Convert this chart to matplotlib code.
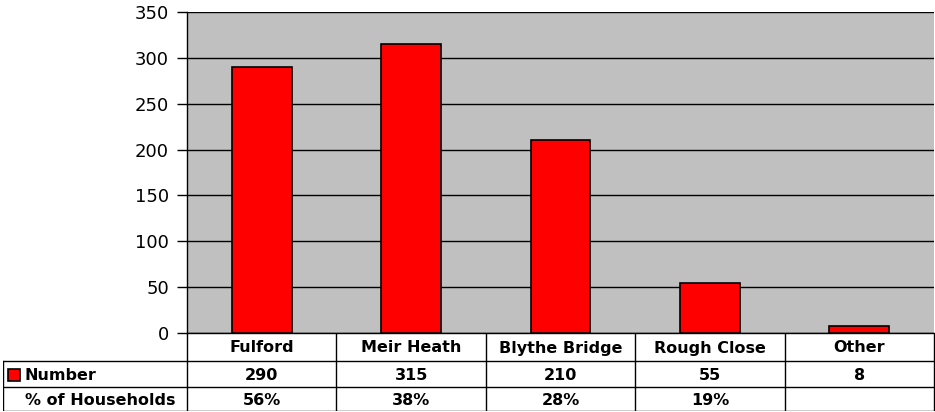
import matplotlib
matplotlib.use("Agg")
import matplotlib.pyplot as plt
from matplotlib.patches import Rectangle

plt.rcParams['font.family'] = ['DejaVu Sans']

categories = ["Fulford", "Meir Heath", "Blythe Bridge", "Rough Close", "Other"]
numbers = [290, 315, 210, 55, 8]
pct_households = ["56%", "38%", "28%", "19%", ""]
row_labels = ["Number", "% of Households"]
yticks = [0, 50, 100, 150, 200, 250, 300, 350]

W, H = 935, 412
fig = plt.figure(figsize=(W / 100, H / 100), dpi=100)

def fx(px):
    return px / W

def fy(py):
    return 1 - py / H

left_px, right_px, top_px, bot_px = 187, 934, 12, 333
ax = fig.add_axes([fx(left_px), fy(bot_px), fx(right_px) - fx(left_px), fy(top_px) - fy(bot_px)])
ax.set_facecolor("#c0c0c0")
x = list(range(len(categories)))
ax.bar(x, numbers, width=0.4, color="#ff0000", edgecolor="black", linewidth=1.2, zorder=3)
ax.set_xlim(-0.5, len(categories) - 0.5)
ax.set_ylim(0, 350)
ax.set_yticks(yticks)
ax.set_yticklabels([str(v) for v in yticks], fontsize=13)
ax.yaxis.grid(True, color="black", linewidth=1, zorder=1)
ax.set_xticks([])
ax.tick_params(axis='y', length=7, width=1, pad=6)
for s in ["top", "right"]:
    ax.spines[s].set_visible(False)
ax.spines["left"].set_linewidth(1)
ax.spines["bottom"].set_linewidth(1)

# Table drawn in a separate axes spanning from label column to right edge
tleft_px, ttop_px, tbot_px = 3, 333, 411
tax = fig.add_axes([fx(tleft_px), fy(tbot_px), fx(right_px + 1) - fx(tleft_px), fy(ttop_px) - fy(tbot_px)])
tax.set_xlim(tleft_px, right_px + 1)
tax.set_ylim(tbot_px, ttop_px)
tax.axis("off")

col_w = (right_px - left_px) / len(categories)
row_edges = [333, 361, 387, 411]
lw = 1.0
for ry in row_edges[1:]:
    tax.plot([tleft_px, right_px], [ry, ry], color="black", lw=lw, solid_capstyle="butt")
tax.plot([tleft_px, tleft_px], [row_edges[1], row_edges[3]], color="black", lw=lw)
for i in range(len(categories) + 1):
    xx = left_px + i * col_w
    tax.plot([xx, xx], [row_edges[0], row_edges[3]], color="black", lw=lw)

fs = 11.5
for i, c in enumerate(categories):
    cx = left_px + (i + 0.5) * col_w
    tax.text(cx, (row_edges[0] + row_edges[1]) / 2 + 1, c, ha="center", va="center", fontsize=fs, fontweight="bold")
    tax.text(cx, (row_edges[1] + row_edges[2]) / 2 + 1, str(numbers[i]), ha="center", va="center", fontsize=fs, fontweight="bold")
    tax.text(cx, (row_edges[2] + row_edges[3]) / 2 + 1, pct_households[i], ha="center", va="center", fontsize=fs, fontweight="bold")

# legend key
tax.add_patch(Rectangle((8, 369), 12, 12, facecolor="#ff0000", edgecolor="black", lw=1.2, clip_on=False))
tax.text(24, (row_edges[1] + row_edges[2]) / 2 + 1, row_labels[0], ha="left", va="center", fontsize=fs, fontweight="bold")
tax.text(25, (row_edges[2] + row_edges[3]) / 2 + 1, row_labels[1], ha="left", va="center", fontsize=fs, fontweight="bold")

fig.savefig("out.png", dpi=100)
